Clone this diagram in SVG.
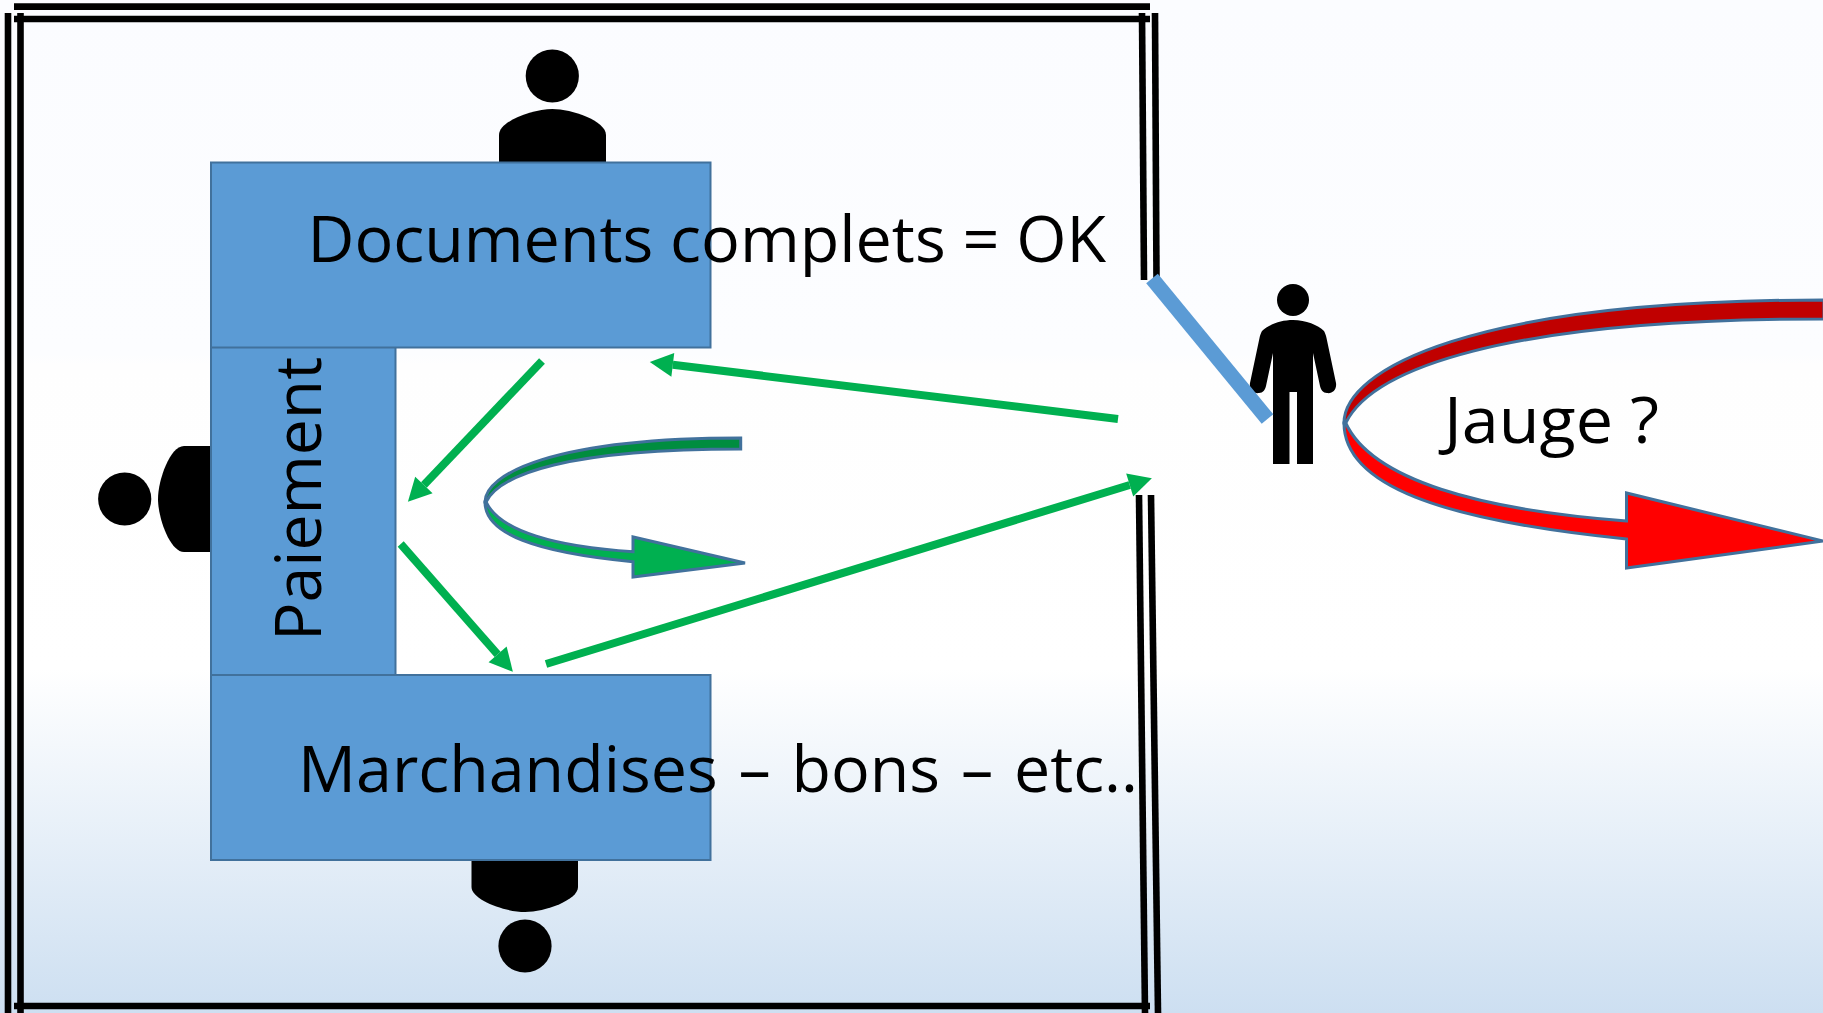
<svg xmlns="http://www.w3.org/2000/svg" width="1823" height="1013" viewBox="0 0 1823 1013">
<style>
.wall{stroke:#000;stroke-width:6.6;fill:none}
.box{fill:#5b9bd5;stroke:#41719c;stroke-width:2}
.lbl{font-family:"Open Sans","Noto Sans","Liberation Sans",sans-serif;font-size:64px;fill:#000}
.flow{stroke:#00b050;stroke-width:8;fill:none}
.curve{stroke:#41719c;stroke-width:3;stroke-linejoin:miter}
.blk{fill:#000}
</style>
<defs>
<linearGradient id="bg" x1="0" y1="0" x2="0" y2="1">
<stop offset="0" stop-color="#fbfcff"/><stop offset="0.35" stop-color="#fcfdff"/><stop offset="0.36" stop-color="#fefefe"/><stop offset="0.66" stop-color="#ffffff"/><stop offset="1" stop-color="#cddff1"/>
</linearGradient>
<marker id="head" markerUnits="strokeWidth" markerWidth="3" markerHeight="3" refX="0" refY="1.5" orient="auto" overflow="visible"><path d="M0,0 L2.9,1.5 L0,3 Z" fill="#00b050"/></marker>
</defs>
<rect width="1823" height="1013" fill="url(#bg)"/>
<g id="walls">
<line class="wall" x1="14" y1="6.6" x2="1150" y2="6.6"/>
<line class="wall" x1="14" y1="19" x2="1150" y2="19"/>
<line class="wall" x1="8" y1="13" x2="8" y2="1013"/>
<line class="wall" x1="20.5" y1="13" x2="20.5" y2="1013"/>
<line class="wall" x1="14" y1="1006" x2="1150" y2="1006"/>
<line class="wall" x1="1142" y1="13" x2="1144" y2="280"/>
<line class="wall" x1="1155" y1="13" x2="1156.5" y2="280"/>
<line class="wall" x1="1139" y1="495" x2="1145" y2="1013"/>
<line class="wall" x1="1151" y1="495" x2="1158" y2="1013"/>
</g>
<g id="person-top"><circle class="blk" cx="552.3" cy="76" r="26.6"/><path class="blk" d="M499,163 V135 C499,121 533,109 552.3,109 C572,109 606,121 606,135 V163 Z"/></g>
<g id="person-left"><circle class="blk" cx="124.7" cy="499" r="26.6"/><path class="blk" d="M212,446 H184 C170,446 158,480 158,499 C158,518 170,552 184,552 H212 Z"/></g>
<g id="person-bottom"><circle class="blk" cx="525" cy="946" r="26.6"/><path class="blk" d="M471.500,859 V887 C471.500,900 505,912 525,912 C545,912 578,900 578,887 V859 Z"/></g>
<g id="paiement"><rect class="box" x="211" y="347" width="184.500" height="328"/><text class="lbl" transform="translate(321 641) rotate(-90)" textLength="284" lengthAdjust="spacingAndGlyphs">Paiement</text></g>
<g id="documents"><rect class="box" x="211" y="162.500" width="499.500" height="185"/><text class="lbl" x="307.500" y="262" textLength="798.500" lengthAdjust="spacingAndGlyphs">Documents complets = OK</text></g>
<g id="marchandises"><rect class="box" x="211" y="675" width="499.500" height="185"/><text class="lbl" x="298" y="792" word-spacing="4" textLength="840" lengthAdjust="spacingAndGlyphs">Marchandises – bons – etc..</text></g>
<g id="person-standing"><circle class="blk" cx="1293" cy="300" r="16"/><path class="blk" d="M1293,320 C1280,320 1268,325 1262,331 C1261,333 1260,335 1259.500,338 L1250,383 C1249,390 1254,394 1259,393 C1263,393 1265,390 1266,386 L1273,353 V464 H1289.500 V392 H1297 V464 H1313 V353 L1320,386 C1321,390 1323,393 1327,393 C1332,394 1337,390 1336,383 L1326.500,338 C1326,335 1325,333 1324,331 C1318,325 1306,320 1293,320 Z"/></g>
<g id="door"><line x1="1152" y1="278.500" x2="1267.500" y2="419" stroke="#5b9bd5" stroke-width="15"/></g>
<g id="connectors">
<line class="flow" x1="542" y1="361" x2="423.900" y2="485" marker-end="url(#head)"/>
<line class="flow" x1="1118" y1="419" x2="672.800" y2="364.800" marker-end="url(#head)"/>
<line class="flow" x1="400.700" y1="544" x2="497.600" y2="654.400" marker-end="url(#head)"/>
<line class="flow" x1="546" y1="664" x2="1129.700" y2="485" marker-end="url(#head)"/>
</g>
<g id="curve-green">
<path class="curve" fill="#008d3f" d="M485,502 C485,474.400 552,438 740.700,438 V449 C568,449 500,474 486,502 Z"/>
<path class="curve" fill="#00b050" d="M486,502 C500,531.600 557,547 633,551.700 V537 L745,563 L633,577 V561.700 C536,552.400 485,534 485,502 Z"/>
</g>
<g id="curve-red">
<path class="curve" fill="#c00000" d="M1344,423 C1344,370 1470,300 1824,300 V319 C1500,319 1372,370 1345.700,423 Z"/>
<path class="curve" fill="#ff0000" d="M1345.700,423 C1372,480 1480,510 1626.500,521 V493 L1823,541 L1626.500,568 V539 C1440,520 1344,485 1344,423 Z"/>
</g>
<g id="jauge"><text class="lbl" x="1444" y="443" textLength="215" lengthAdjust="spacingAndGlyphs">Jauge ?</text></g>
</svg>
